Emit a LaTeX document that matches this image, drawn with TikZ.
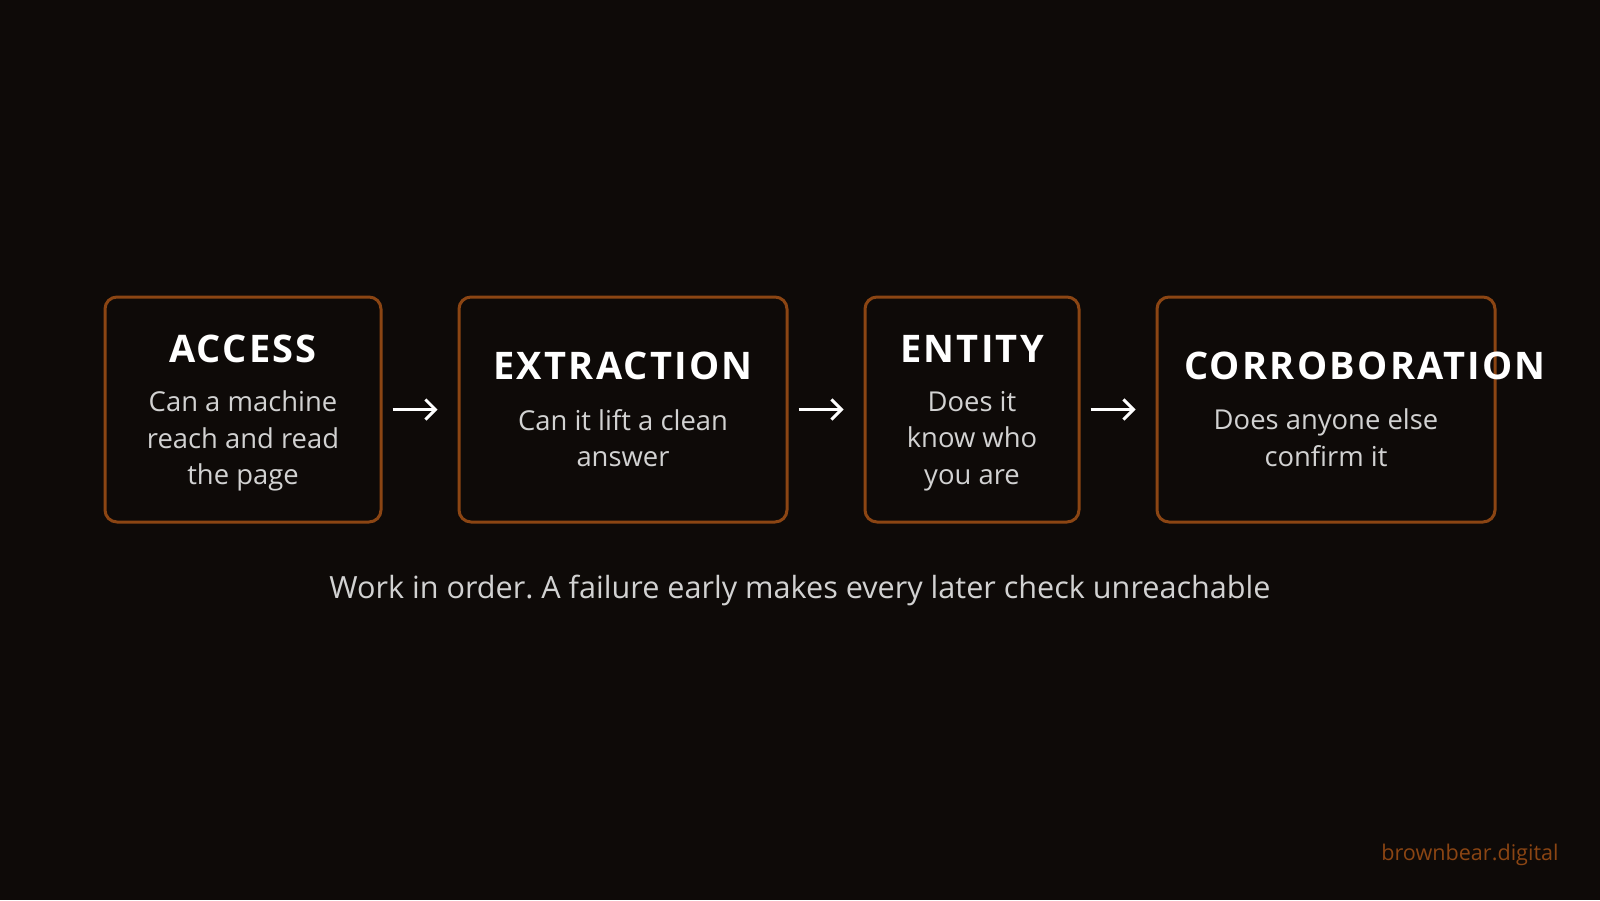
\documentclass[tikz,border=0pt]{standalone}
\usepackage{fontspec}
\setmainfont{Open Sans}
\newfontfamily\titlefont[LetterSpace=6]{Open Sans}
\usetikzlibrary{arrows.meta}
\frenchspacing

\definecolor{bgdark}{HTML}{0E0A08}
\definecolor{rust}{HTML}{8B4513}
\definecolor{paletext}{HTML}{D2D2D2}

\tikzset{
    stage/.style={draw=rust, line width=1.5pt, rounded corners=6pt, fill=bgdark,
        minimum height=112.5pt, inner sep=0pt},
    title/.style={text=white, font=\titlefont\fontsize{19}{22}\selectfont\bfseries},
    body/.style={text=paletext, align=center, font=\fontsize{13.7}{18.35}\selectfont},
    flow/.style={-{Straight Barb[length=5pt,width=10pt,line width=1.5pt]}, white,
        line width=1.5pt, shorten <=5pt, shorten >=10pt}
}

\begin{document}
\begin{tikzpicture}[x=0.5pt,y=-0.5pt]
    \fill[bgdark] (0,0) rectangle (1600,900);
    \useasboundingbox (0,0) rectangle (1600,900);

    % the four stages
    \node[stage, minimum width=138pt] (access) at (243,409.5) {};
    \node[stage, minimum width=164pt] (extraction) at (623,409.5) {};
    \node[stage, minimum width=107pt] (entity) at (972,409.5) {};
    \node[stage, minimum width=169pt] (corroboration) at (1326,409.5) {};

    \node[title] (accessT) at (243,349) {ACCESS};
    \node[title] (extractionT) at (623,366) {EXTRACTION};
    \node[title] (entityT) at (972,349) {ENTITY};
    \node[title] (corroborationT) at (1365,366) {CORROBORATION};

    \node[body] (accessB) at (243,441) {Can a machine\\reach and read\\the page};
    \node[body] (extractionB) at (623,438) {Can it lift a clean\\answer};
    \node[body] (entityB) at (972,441) {Does it\\know who\\you are};
    \node[body] (corroborationB) at (1326,438) {Does anyone else\\confirm it};

    \draw[flow] (access) -- (extraction);
    \draw[flow] (extraction) -- (entity);
    \draw[flow] (entity) -- (corroboration);

    \node[text=paletext, font=\fontsize{15.3}{18}\selectfont] (note) at (800,590)
        {Work in order. A failure early makes every later check unreachable};
    \node[text=rust, anchor=east, inner sep=0pt, font=\fontsize{10.8}{12}\selectfont] (brand)
        at (1559,855) {brownbear.digital};
\end{tikzpicture}
\end{document}
